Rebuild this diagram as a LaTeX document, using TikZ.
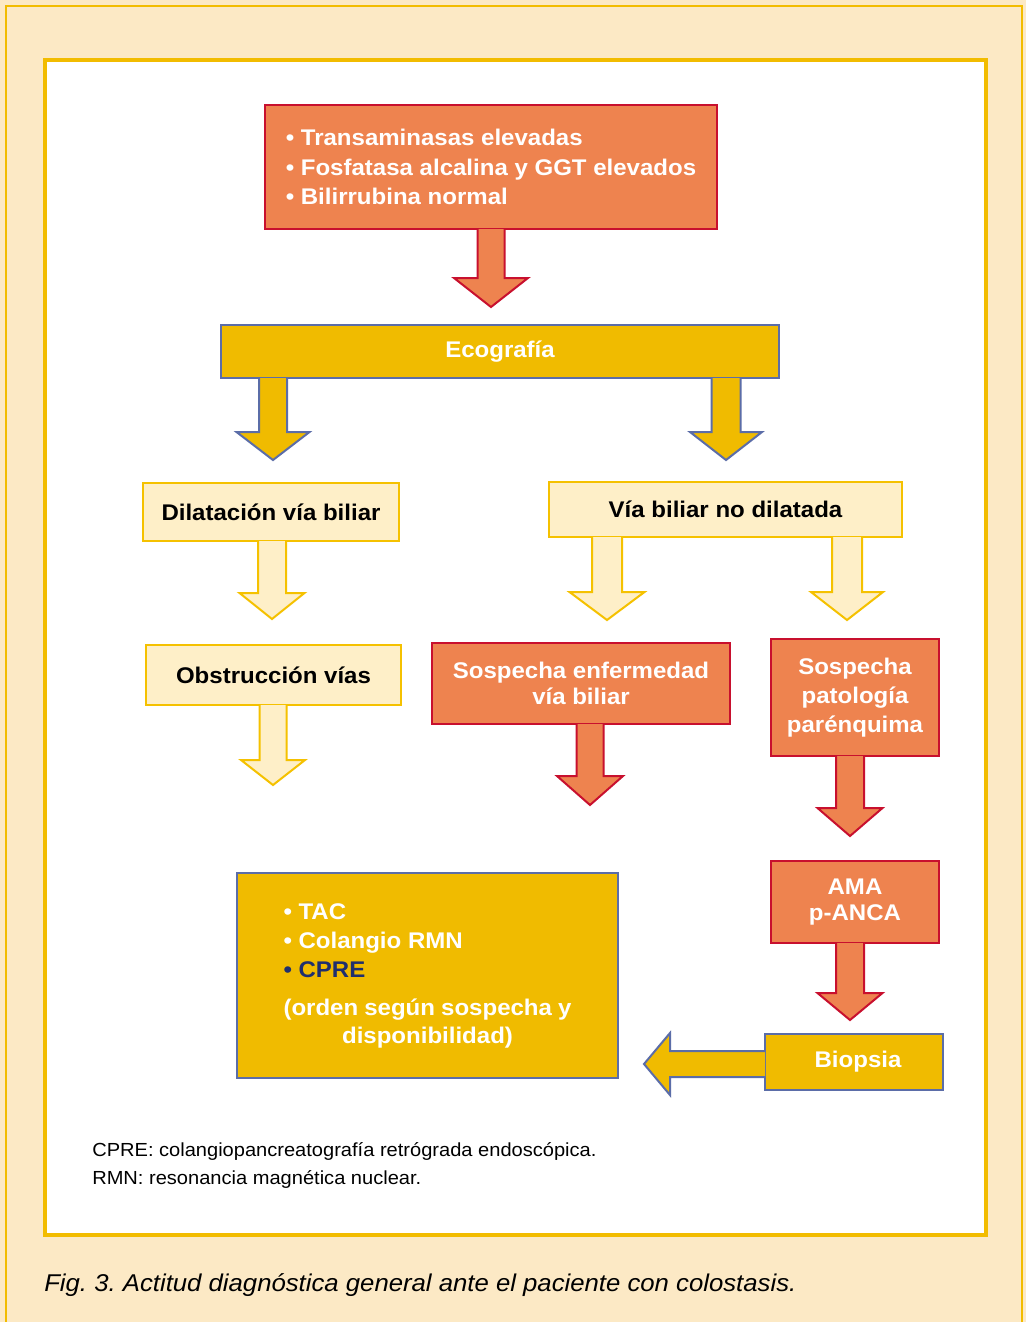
\documentclass[tikz,border=0pt]{standalone}
\usepackage{fontspec}
\setmainfont[FakeStretch=1.06]{Liberation Sans}
\usetikzlibrary{calc}
\frenchspacing
\definecolor{creambg}{HTML}{FCE9C5}
\definecolor{ybord}{HTML}{F2BC00}
\definecolor{orangef}{HTML}{EE834F}
\definecolor{redb}{HTML}{C8102E}
\definecolor{goldf}{HTML}{F0BB00}
\definecolor{blueb}{HTML}{5B6DA8}
\definecolor{lightf}{HTML}{FEEFC8}
\definecolor{lightb}{HTML}{F5C100}
\definecolor{navyt}{HTML}{1F2F6E}
\newcommand\downarr[6]{%
  \path[#1] let \p1=(#2.south), \p2=(#3) in
   (\x2-#4*0.75pt,\y1+0.75pt) -- (\x2-#4*0.75pt,\y2+#6*0.75pt) -- (\x2-#5*0.75pt,\y2+#6*0.75pt)
   -- (\x2,\y2) -- (\x2+#5*0.75pt,\y2+#6*0.75pt) -- (\x2+#4*0.75pt,\y2+#6*0.75pt) -- (\x2+#4*0.75pt,\y1+0.75pt);}
\begin{document}
\frenchspacing
\begin{tikzpicture}[x=0.75pt,y=-0.75pt,
  boxtext/.style={font=\bfseries\fontsize{17}{22}\selectfont, align=center, inner sep=0pt},
  obox/.style={boxtext, draw=redb, fill=orangef, line width=1.5pt, text=white},
  gbox/.style={boxtext, draw=blueb, fill=goldf, line width=1.5pt, text=white},
  lbox/.style={boxtext, draw=lightb, fill=lightf, line width=1.5pt, text=black},
  oarrow/.style={draw=redb, fill=orangef, line width=1.5pt, line join=miter},
  garrow/.style={draw=blueb, fill=goldf, line width=1.5pt, line join=miter},
  larrow/.style={draw=lightb, fill=lightf, line width=1.5pt, line join=miter},
  note/.style={anchor=base west, inner sep=0pt, font=\fontsize{14.2}{16}\selectfont, text=black}
]
\useasboundingbox (0,0) rectangle (1026,1322);
\fill[creambg] (0,0) rectangle (1026,1322);
\draw[ybord, line width=1.5pt] (5.5,5.5) rectangle (1021.5,1330);
\draw[ybord, fill=white, line width=3pt] (44.5,60) rectangle (985.5,1235);

% boxes
\node[obox, minimum width=339pt, minimum height=93pt, align=left] (top) at (491,167)
  {• Transaminasas elevadas\\• Fosfatasa alcalina y GGT elevados\\• Bilirrubina normal};
\node[gbox, minimum width=418.5pt, minimum height=39.75pt] (eco) at (500,351.5) {Ecografía};
\node[lbox, minimum width=192pt, minimum height=43.5pt] (dil) at (271,512) {Dilatación vía biliar};
\node[lbox, minimum width=264.75pt, minimum height=41.25pt] (via) at (725.5,509.5) {Vía biliar no dilatada};
\node[lbox, minimum width=191.25pt, minimum height=45pt] (obs) at (273.5,675) {Obstrucción vías};
\node[obox, minimum width=223.5pt, minimum height=60.75pt, font=\bfseries\fontsize{17}{20}\selectfont] (senf) at (581,683.5) {Sospecha enfermedad\\vía biliar};
\node[obox, minimum width=126pt, minimum height=87.75pt] (spar) at (855,697.5) {Sospecha\\patología\\parénquima};
\node[obox, minimum width=126pt, minimum height=61.5pt, font=\bfseries\fontsize{17}{19.5}\selectfont] (ama) at (855,902) {AMA\\p-ANCA};
\node[gbox, minimum width=285.75pt, minimum height=153.75pt] (big) at (427.5,975.5)
  {\begin{minipage}{216pt}\fontsize{17}{22}\selectfont\raggedright
   • TAC\\
   • Colangio RMN\\
   {\color{navyt}• CPRE}\par\vspace{7pt}
   {\centering\fontsize{17}{21}\selectfont (orden según sospecha y\\ disponibilidad)\par}
   \end{minipage}};
\node[gbox, minimum width=133.5pt, minimum height=42pt] (bio) at (854,1062) {\hspace*{6pt}Biopsia};

% arrow tips
\coordinate (t1) at (491,307);
\coordinate (t2) at (273,460);
\coordinate (t3) at (726,460);
\coordinate (t4) at (272,619);
\coordinate (t5) at (607,620);
\coordinate (t6) at (847,620);
\coordinate (t7) at (273,785);
\coordinate (t8) at (590,805);
\coordinate (t9) at (850,836);
\coordinate (t10) at (850,1020);
\coordinate (t11) at (644,1064);

\downarr{oarrow}{top}{t1}{13.5}{37}{29}
\downarr{garrow}{eco}{t2}{14}{36.5}{28}
\downarr{garrow}{eco}{t3}{14.5}{36}{28}
\downarr{larrow}{dil}{t4}{14}{32.5}{26}
\downarr{larrow}{via}{t5}{15}{37.5}{28}
\downarr{larrow}{via}{t6}{15}{36}{28}
\downarr{larrow}{obs}{t7}{13.5}{32}{25}
\downarr{oarrow}{senf}{t8}{13.5}{33}{29}
\downarr{oarrow}{spar}{t9}{14}{32.5}{28}
\downarr{oarrow}{ama}{t10}{14}{32.5}{27}
\path[garrow] let \p1=(bio.west), \p2=(t11) in
  (\x1+0.75pt,\y2+13*0.75pt) -- (\x2+26*0.75pt,\y2+13*0.75pt) -- (\x2+26*0.75pt,\y2+31*0.75pt)
  -- (\x2,\y2) -- (\x2+26*0.75pt,\y2-31*0.75pt) -- (\x2+26*0.75pt,\y2-13*0.75pt) -- (\x1+0.75pt,\y2-13*0.75pt);

% notes
\node[note] (fn1) at (92,1156) {CPRE: colangiopancreatografía retrógrada endoscópica.};
\node[note] (fn2) at (92,1184) {RMN: resonancia magnética nuclear.};
\node[anchor=base west, inner sep=0pt, font=\itshape\fontsize{18.2}{20}\selectfont] (cap) at (44,1291)
  {Fig. 3. Actitud diagnóstica general ante el paciente con colostasis.};
\end{tikzpicture}
\end{document}
